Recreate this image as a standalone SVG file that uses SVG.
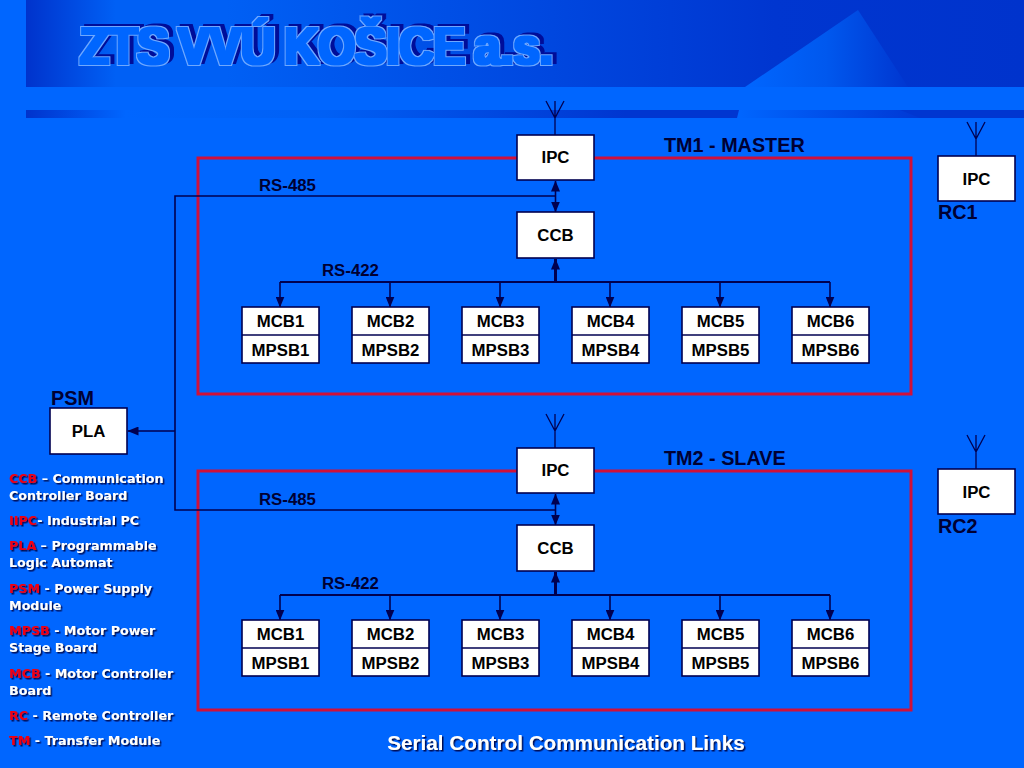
<svg xmlns="http://www.w3.org/2000/svg" width="1024" height="768" viewBox="0 0 1024 768">
<style>
text{font-family:"Liberation Sans",Arial,sans-serif}
.box{fill:#fff;stroke:#000050;stroke-width:1.6}
.frame{fill:none;stroke:#d0103a;stroke-width:3}
.lbl{font-size:16.8px;font-weight:700;fill:#000;text-anchor:middle}
.cap{font-size:19.8px;font-weight:700;fill:#000033}
.rs{font-size:16.8px;font-weight:700;fill:#000033}
.ln{fill:none;stroke:#000050;stroke-width:1.6}
.ant{fill:none;stroke:#000050;stroke-width:1.3}
.leg{font-family:"DejaVu Sans",Verdana,sans-serif;font-size:12.7px;font-weight:700;fill:#fff;filter:url(#sh)}
.leg .r{fill:#f00010}
.foot{font-size:20.7px;font-weight:700;fill:#fff;text-anchor:middle;filter:url(#sh)}
</style>
<defs>
<linearGradient id="band" x1="0" x2="1" y1="0" y2="0"><stop offset="0" stop-color="#0033cc"/><stop offset=".09" stop-color="#0060f5"/><stop offset=".2" stop-color="#0060f5"/><stop offset=".75" stop-color="#0036d0"/><stop offset="1" stop-color="#0033cc"/></linearGradient>
<linearGradient id="tri" x1="0" x2="1" y1="0" y2="0"><stop offset="0" stop-color="#0066ff"/><stop offset=".5" stop-color="#0058ee"/><stop offset="1" stop-color="#0036d0"/></linearGradient>
<linearGradient id="stripe" x1="0" x2="1" y1="0" y2="0"><stop offset="0" stop-color="#0033cc"/><stop offset=".1" stop-color="#0066ff"/><stop offset=".3" stop-color="#0060f5"/><stop offset=".6" stop-color="#0036d0"/><stop offset="1" stop-color="#0036d0"/></linearGradient>
<linearGradient id="stripe2" x1="0" x2="1" y1="0" y2="0"><stop offset="0" stop-color="#0066ff"/><stop offset="1" stop-color="#0038d4"/></linearGradient>
<filter id="sh" x="-5%" y="-20%" width="110%" height="150%"><feDropShadow dx="1.5" dy="1.5" stdDeviation="0.4" flood-color="#000d55"/></filter>
<filter id="tf" x="-5%" y="-30%" width="110%" height="160%" color-interpolation-filters="sRGB">
<feMorphology in="SourceAlpha" operator="dilate" radius="2.2 0.9" result="body"/>
<feMorphology in="SourceAlpha" operator="dilate" radius="3.2 1.8" result="outer"/>
<feFlood flood-color="#000d99"/><feComposite in2="outer" operator="in"/><feOffset dx="4" dy="-2" result="shadow"/>
<feFlood flood-color="#6ea8ff"/><feComposite in2="outer" operator="in" result="line"/>
<feFlood flood-color="#0066ff"/><feComposite in2="body" operator="in" result="fill"/>
<feMerge><feMergeNode in="shadow"/><feMergeNode in="line"/><feMergeNode in="fill"/></feMerge>
</filter>
<marker id="a" viewBox="0 0 11 9" refX="10.500" refY="4.500" markerWidth="11" markerHeight="9" markerUnits="userSpaceOnUse" orient="auto-start-reverse"><path d="M0 0L11 4.500L0 9Z" fill="#000050"/></marker>
</defs>

<g id="background">
<rect width="1024" height="768" fill="#0066ff"/>
<rect x="26" y="0" width="998" height="87" fill="url(#band)"/>
<polygon points="745,87 858,10 908,87" fill="url(#tri)"/>
<rect x="26" y="110" width="998" height="8" fill="url(#stripe)"/>
<polygon points="739,110 900,110 920,118 737,118" fill="url(#stripe2)"/>
</g>

<g id="title">
<text transform="translate(80,64) scale(.905,1)" font-size="52" font-weight="700" word-spacing="-4" fill="#0066ff" filter="url(#tf)">ZTS VVÚ KOŠICE a.s.</text>
</g>

<g id="frames">
<rect id="tm1-frame" class="frame" x="198" y="158" width="713" height="236"/>
<rect id="tm2-frame" class="frame" x="198" y="471" width="713" height="239"/>
</g>

<g id="connectors">
<path class="ant" d="M555 135V101M555 118L546 101M555 118L564 101"/>
<path class="ant" d="M555 448V414M555 431L546 414M555 431L564 414"/>
<path class="ant" d="M976 156V122M976 139L967 122M976 139L985 122"/>
<path class="ant" d="M976 469V435M976 452L967 435M976 452L985 435"/>
<path class="ln" d="M555 196H175V510H555"/>
<path class="ln" d="M175 431H128" marker-end="url(#a)"/>
<path class="ln" d="M555.500 181V212" marker-start="url(#a)" marker-end="url(#a)"/>
<path class="ln" d="M555.500 494V525" marker-start="url(#a)" marker-end="url(#a)"/>
<path class="ln" d="M280 282H830" style="stroke-width:2"/>
<path class="ln" d="M555.500 282V259" style="stroke-width:3" marker-end="url(#a)"/>
<path class="ln" d="M280 282V307" marker-end="url(#a)"/>
<path class="ln" d="M390 282V307" marker-end="url(#a)"/>
<path class="ln" d="M500 282V307" marker-end="url(#a)"/>
<path class="ln" d="M610 282V307" marker-end="url(#a)"/>
<path class="ln" d="M720 282V307" marker-end="url(#a)"/>
<path class="ln" d="M830 282V307" marker-end="url(#a)"/>
<path class="ln" d="M280 595H830" style="stroke-width:2"/>
<path class="ln" d="M555.500 595V572" style="stroke-width:3" marker-end="url(#a)"/>
<path class="ln" d="M280 595V620" marker-end="url(#a)"/>
<path class="ln" d="M390 595V620" marker-end="url(#a)"/>
<path class="ln" d="M500 595V620" marker-end="url(#a)"/>
<path class="ln" d="M610 595V620" marker-end="url(#a)"/>
<path class="ln" d="M720 595V620" marker-end="url(#a)"/>
<path class="ln" d="M830 595V620" marker-end="url(#a)"/>
</g>

<g id="labels">
<text class="cap" x="664" y="152">TM1 - MASTER</text>
<text class="cap" x="664" y="465">TM2 - SLAVE</text>
<text class="cap" x="938" y="219">RC1</text>
<text class="cap" x="938" y="533">RC2</text>
<text class="cap" x="51" y="405">PSM</text>
<text class="rs" x="259" y="191">RS-485</text>
<text class="rs" x="259" y="505">RS-485</text>
<text class="rs" x="322" y="276">RS-422</text>
<text class="rs" x="322" y="589">RS-422</text>
</g>

<g id="tm1-ipc"><rect class="box" x="517" y="135" width="77" height="45"/><text class="lbl" x="555.500" y="163">IPC</text></g>
<g id="tm1-ccb"><rect class="box" x="517" y="212" width="77" height="46"/><text class="lbl" x="555.500" y="241">CCB</text></g>
<g id="tm2-ipc"><rect class="box" x="517" y="448" width="77" height="45"/><text class="lbl" x="555.500" y="476">IPC</text></g>
<g id="tm2-ccb"><rect class="box" x="517" y="525" width="77" height="46"/><text class="lbl" x="555.500" y="554">CCB</text></g>
<g id="rc1-ipc"><rect class="box" x="938" y="156" width="77" height="45"/><text class="lbl" x="976.500" y="185">IPC</text></g>
<g id="rc2-ipc"><rect class="box" x="938" y="469" width="77" height="45"/><text class="lbl" x="976.500" y="498">IPC</text></g>
<g id="pla"><rect class="box" x="50" y="408" width="77" height="46"/><text class="lbl" x="88.500" y="437">PLA</text></g>

<g id="tm1-m1"><rect class="box" x="242" y="307" width="77" height="56"/><path class="ln" d="M242 335H319"/><text class="lbl" x="280.500" y="327">MCB1</text><text class="lbl" x="280.500" y="356">MPSB1</text></g>
<g id="tm1-m2"><rect class="box" x="352" y="307" width="77" height="56"/><path class="ln" d="M352 335H429"/><text class="lbl" x="390.500" y="327">MCB2</text><text class="lbl" x="390.500" y="356">MPSB2</text></g>
<g id="tm1-m3"><rect class="box" x="462" y="307" width="77" height="56"/><path class="ln" d="M462 335H539"/><text class="lbl" x="500.500" y="327">MCB3</text><text class="lbl" x="500.500" y="356">MPSB3</text></g>
<g id="tm1-m4"><rect class="box" x="572" y="307" width="77" height="56"/><path class="ln" d="M572 335H649"/><text class="lbl" x="610.500" y="327">MCB4</text><text class="lbl" x="610.500" y="356">MPSB4</text></g>
<g id="tm1-m5"><rect class="box" x="682" y="307" width="77" height="56"/><path class="ln" d="M682 335H759"/><text class="lbl" x="720.500" y="327">MCB5</text><text class="lbl" x="720.500" y="356">MPSB5</text></g>
<g id="tm1-m6"><rect class="box" x="792" y="307" width="77" height="56"/><path class="ln" d="M792 335H869"/><text class="lbl" x="830.500" y="327">MCB6</text><text class="lbl" x="830.500" y="356">MPSB6</text></g>

<g id="tm2-m1"><rect class="box" x="242" y="620" width="77" height="56"/><path class="ln" d="M242 648H319"/><text class="lbl" x="280.500" y="640">MCB1</text><text class="lbl" x="280.500" y="669">MPSB1</text></g>
<g id="tm2-m2"><rect class="box" x="352" y="620" width="77" height="56"/><path class="ln" d="M352 648H429"/><text class="lbl" x="390.500" y="640">MCB2</text><text class="lbl" x="390.500" y="669">MPSB2</text></g>
<g id="tm2-m3"><rect class="box" x="462" y="620" width="77" height="56"/><path class="ln" d="M462 648H539"/><text class="lbl" x="500.500" y="640">MCB3</text><text class="lbl" x="500.500" y="669">MPSB3</text></g>
<g id="tm2-m4"><rect class="box" x="572" y="620" width="77" height="56"/><path class="ln" d="M572 648H649"/><text class="lbl" x="610.500" y="640">MCB4</text><text class="lbl" x="610.500" y="669">MPSB4</text></g>
<g id="tm2-m5"><rect class="box" x="682" y="620" width="77" height="56"/><path class="ln" d="M682 648H759"/><text class="lbl" x="720.500" y="640">MCB5</text><text class="lbl" x="720.500" y="669">MPSB5</text></g>
<g id="tm2-m6"><rect class="box" x="792" y="620" width="77" height="56"/><path class="ln" d="M792 648H869"/><text class="lbl" x="830.500" y="640">MCB6</text><text class="lbl" x="830.500" y="669">MPSB6</text></g>

<g id="legend">
<text class="leg" x="9" y="483"><tspan class="r">CCB</tspan> – Communication</text>
<text class="leg" x="9" y="500">Controller Board</text>
<text class="leg" x="9" y="525"><tspan class="r">IIPC</tspan>- Industrial PC</text>
<text class="leg" x="9" y="550"><tspan class="r">PLA</tspan> – Programmable</text>
<text class="leg" x="9" y="567">Logic Automat</text>
<text class="leg" x="9" y="593"><tspan class="r">PSM</tspan> - Power Supply</text>
<text class="leg" x="9" y="610">Module</text>
<text class="leg" x="9" y="635"><tspan class="r">MPSB</tspan> - Motor Power</text>
<text class="leg" x="9" y="652">Stage Board</text>
<text class="leg" x="9" y="678"><tspan class="r">MCB</tspan> - Motor Controller</text>
<text class="leg" x="9" y="695">Board</text>
<text class="leg" x="9" y="720"><tspan class="r">RC</tspan> - Remote Controller</text>
<text class="leg" x="9" y="745"><tspan class="r">TM</tspan> - Transfer Module</text>
</g>

<g id="footer"><text class="foot" x="566" y="750">Serial Control Communication Links</text></g>
</svg>
